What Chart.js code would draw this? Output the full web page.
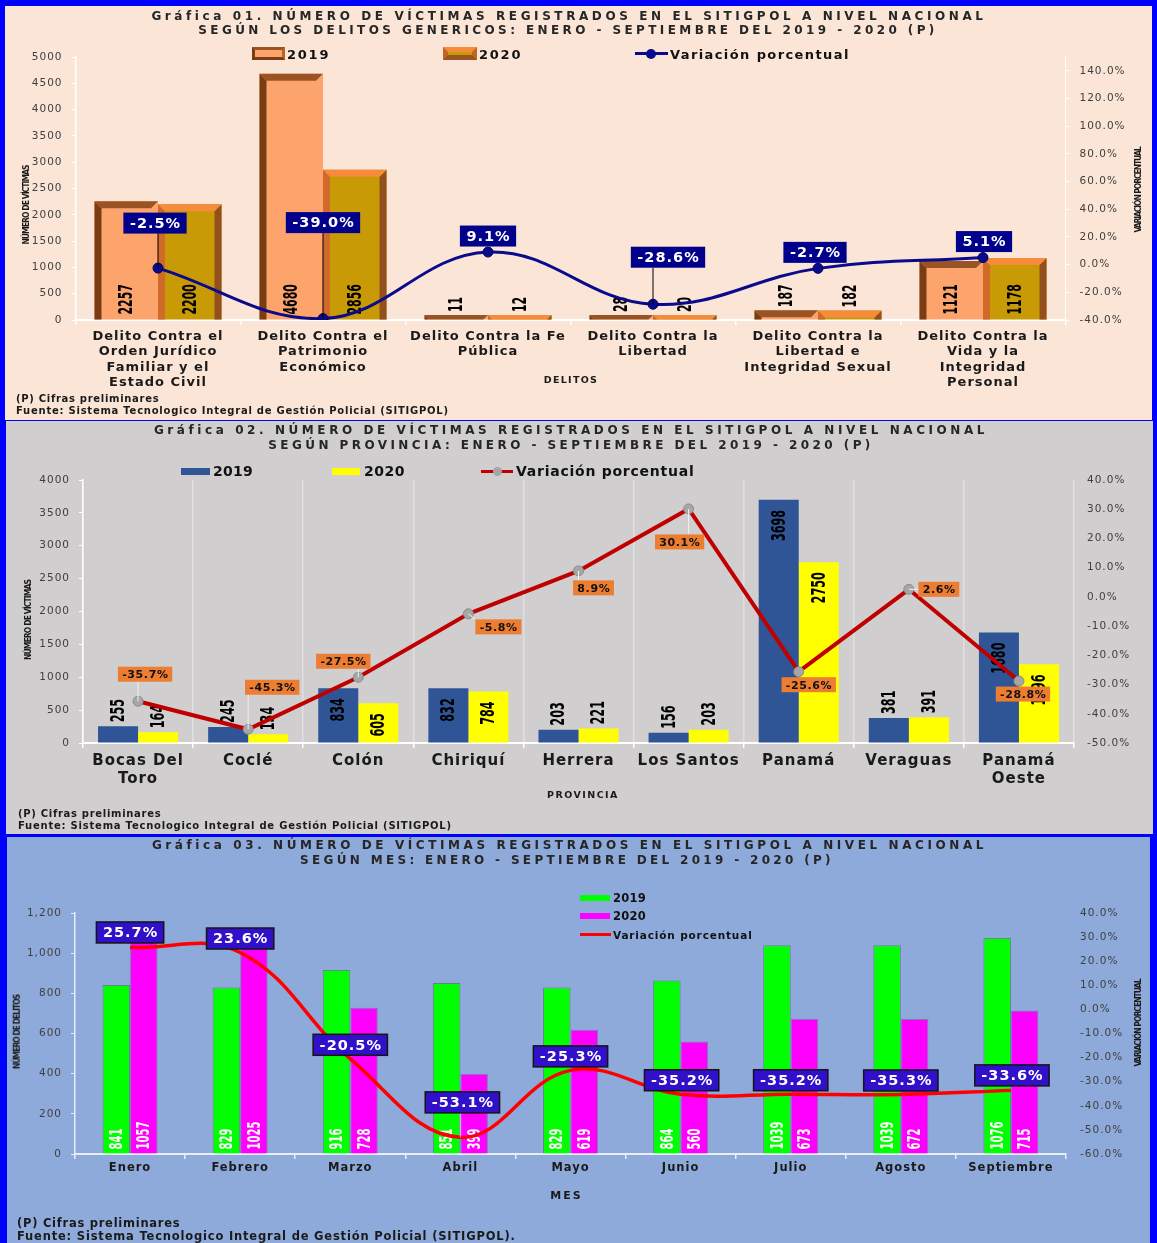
<!DOCTYPE html>
<html>
<head>
<meta charset="utf-8">
<title>Víctimas registradas en el SITIGPOL 2019 - 2020</title>
<script src="https://cdn.jsdelivr.net/npm/chart.js@4.4.1/dist/chart.umd.min.js"></script>
<style>
  html, body { margin: 0; padding: 0; }
  body { width: 1157px; height: 1243px; background: #0000ff; position: relative; overflow: hidden;
         font-family: "DejaVu Sans", Verdana, sans-serif; }
  .panel { position: absolute; }
  .panel canvas { position: absolute; left: 0; top: 0; }
  #p1 { left: 5px; top: 6px; width: 1147px; height: 414px; background: #fbe5d6; }
  #p2 { left: 6px; top: 421px; width: 1147px; height: 413px; background: #d0cece; }
  #p3 { left: 7px; top: 837px; width: 1143px; height: 406px; background: #8eaadb; }
  .tx { position: absolute; white-space: nowrap; font-weight: bold; color: #262626; line-height: 1; }
  .c { transform: translate(-50%, -50%); }
  .l { transform: translateY(-50%); }
  .v { transform: translate(-50%, -50%) rotate(-90deg); font-family: "DejaVu Sans Condensed", "DejaVu Sans", sans-serif;
       font-size: 8.5px; color: #1a1a1a; }
  .title { font-size: 12px; }
  .note { font-size: 10px; color: #1a1a1a; }
  .sw { position: absolute; box-sizing: border-box; }
</style>
</head>
<body>
<div class="panel" id="p1"><canvas id="c1" width="1147" height="414"></canvas></div>
<div class="panel" id="p2"><canvas id="c2" width="1147" height="413"></canvas></div>
<div class="panel" id="p3"><canvas id="c3" width="1143" height="406"></canvas></div>

<!-- Gráfica 01 -->
<div class="tx c title" style="left:569px;top:15.5px" data-w="835">Gráfica 01. NÚMERO DE VÍCTIMAS REGISTRADOS EN EL SITIGPOL A NIVEL NACIONAL</div>
<div class="tx c title" style="left:568px;top:30px" data-w="739">SEGÚN LOS DELITOS GENERICOS: ENERO - SEPTIEMBRE DEL 2019 - 2020 (P)</div>
<div class="sw" style="left:252px;top:47px;width:33px;height:13px;background:#fda46c;border:3px solid;border-color:#9a5424 #b5622c #7a3c12 #7a3c12"></div>
<div class="tx l" style="left:287px;top:53.5px;font-size:13px;color:#111" data-w="43">2019</div>
<div class="sw" style="left:443px;top:47px;width:34px;height:13px;background:#c89a05;border:5px solid;border-color:#f68b3c #c0652a #9a5424 #c0652a"></div>
<div class="tx l" style="left:479px;top:53.5px;font-size:13px;color:#111" data-w="43">2020</div>
<div class="sw" style="left:635px;top:52px;width:33px;height:3px;background:#0a0a8c"></div>
<div class="sw" style="left:646px;top:48.5px;width:10px;height:10px;border-radius:50%;background:#0a0a8c"></div>
<div class="tx l" style="left:670px;top:53.5px;font-size:13px;color:#111" data-w="180">Variación porcentual</div>
<div class="tx c" style="left:571px;top:379.5px;font-size:9.5px;color:#1a1a1a" data-w="54">DELITOS</div>
<div class="tx v" style="left:25.5px;top:205px" data-w="79">NÚMERO DE VÍCTIMAS</div>
<div class="tx v" style="left:1138px;top:190px" data-w="85">VARIACIÓN PORCENTUAL</div>
<div class="tx l note" style="left:16px;top:398.5px" data-w="143">(P) Cifras preliminares</div>
<div class="tx l note" style="left:16px;top:410.5px" data-w="433">Fuente: Sistema Tecnologico Integral de Gestión Policial (SITIGPOL)</div>

<!-- Gráfica 02 -->
<div class="tx c title" style="left:571px;top:430px" data-w="834">Gráfica 02. NÚMERO DE VÍCTIMAS REGISTRADOS EN EL SITIGPOL A NIVEL NACIONAL</div>
<div class="tx c title" style="left:571px;top:445px" data-w="606">SEGÚN PROVINCIA: ENERO - SEPTIEMBRE DEL 2019 - 2020 (P)</div>
<div class="sw" style="left:181px;top:467.5px;width:29px;height:7px;background:#2f5597"></div>
<div class="tx l" style="left:213px;top:471px;font-size:14px;color:#111" data-w="40">2019</div>
<div class="sw" style="left:332px;top:467.5px;width:28px;height:7px;background:#ffff00"></div>
<div class="tx l" style="left:364px;top:471px;font-size:14px;color:#111" data-w="41">2020</div>
<div class="sw" style="left:481px;top:469.5px;width:32px;height:3px;background:#c00000"></div>
<div class="sw" style="left:492.5px;top:466.5px;width:9px;height:9px;border-radius:50%;background:#a6a6a6"></div>
<div class="tx l" style="left:516px;top:471px;font-size:14px;color:#111" data-w="178">Variación porcentual</div>
<div class="tx c" style="left:583px;top:794.5px;font-size:9.5px;color:#1a1a1a" data-w="72">PROVINCIA</div>
<div class="tx v" style="left:28px;top:620px" data-w="80">NÚMERO DE VÍCTIMAS</div>
<div class="tx l note" style="left:18px;top:813.5px" data-w="143">(P) Cifras preliminares</div>
<div class="tx l note" style="left:18px;top:825.5px" data-w="434">Fuente: Sistema Tecnologico Integral de Gestión Policial (SITIGPOL)</div>

<!-- Gráfica 03 -->
<div class="tx c title" style="left:569.5px;top:845px" data-w="835">Gráfica 03. NÚMERO DE VÍCTIMAS REGISTRADOS EN EL SITIGPOL A NIVEL NACIONAL</div>
<div class="tx c title" style="left:567px;top:860px" data-w="534">SEGÚN MES: ENERO - SEPTIEMBRE DEL 2019 - 2020 (P)</div>
<div class="sw" style="left:580px;top:895px;width:30px;height:6px;background:#00ff00"></div>
<div class="tx l" style="left:613px;top:898.5px;font-size:11.5px;color:#111" data-w="33">2019</div>
<div class="sw" style="left:580px;top:913px;width:30px;height:6px;background:#ff00ff"></div>
<div class="tx l" style="left:613px;top:916.5px;font-size:11.5px;color:#111" data-w="33">2020</div>
<div class="sw" style="left:580px;top:932.5px;width:31px;height:3px;background:#ff0000"></div>
<div class="tx l" style="left:613px;top:934.5px;font-size:10.5px;color:#111" data-w="140">Variación porcentual</div>
<div class="tx c" style="left:566.5px;top:1194.5px;font-size:11px;color:#1a1a1a" data-w="32">MES</div>
<div class="tx v" style="left:17px;top:1032px" data-w="74">NÚMERO DE DELITOS</div>
<div class="tx v" style="left:1138px;top:1023px" data-w="87">VARIACIÓN PORCENTUAL</div>
<div class="tx l note" style="left:17px;top:1224px;font-size:11.5px" data-w="163">(P) Cifras preliminares</div>
<div class="tx l note" style="left:17px;top:1237px;font-size:11.5px" data-w="499">Fuente: Sistema Tecnologico  Integral de Gestión Policial (SITIGPOL).</div>

<script>
// Gráfica 01: delitos genéricos
const delitos = [
  ['Delito Contra el', 'Orden Jurídico', 'Familiar y el', 'Estado Civil'],
  ['Delito Contra el', 'Patrimonio', 'Económico'],
  ['Delito Contra la Fe', 'Pública'],
  ['Delito Contra la', 'Libertad'],
  ['Delito Contra la', 'Libertad e', 'Integridad Sexual'],
  ['Delito Contra la', 'Vida y la', 'Integridad', 'Personal']
];
const delitos2019 = [2257, 4680, 11, 28, 187, 1121];
const delitos2020 = [2200, 2856, 12, 20, 182, 1178];
const delitosVar = [-2.5, -39.0, 9.1, -28.6, -2.7, 5.1];

// Gráfica 02: provincias
const provincias = [['Bocas Del', 'Toro'], 'Coclé', 'Colón', 'Chiriquí', 'Herrera', 'Los Santos', 'Panamá', 'Veraguas', ['Panamá', 'Oeste']];
const provincias2019 = [255, 245, 834, 832, 203, 156, 3698, 381, 1680];
const provincias2020 = [164, 134, 605, 784, 221, 203, 2750, 391, 1196];
const provinciasVar = [-35.7, -45.3, -27.5, -5.8, 8.9, 30.1, -25.6, 2.6, -28.8];

// Gráfica 03: meses
const meses = ['Enero', 'Febrero', 'Marzo', 'Abril', 'Mayo', 'Junio', 'Julio', 'Agosto', 'Septiembre'];
const meses2019 = [841, 829, 916, 851, 829, 864, 1039, 1039, 1076];
const meses2020 = [1057, 1025, 728, 399, 619, 560, 673, 672, 715];
const mesesVar = [25.7, 23.6, -20.5, -53.1, -25.3, -35.2, -35.2, -35.3, -33.6];

// ajusta el espaciado de letras de los textos HTML al ancho del original
document.querySelectorAll('[data-w]').forEach(el => {
  el.style.letterSpacing = '0px';
  const n = el.textContent.length;
  el.style.letterSpacing = ((+el.dataset.w - el.offsetWidth) / n) + 'px';
});

Chart.defaults.font.family = '"DejaVu Sans", Verdana, sans-serif';
Chart.defaults.animation = false;
Chart.defaults.plugins.legend.display = false;
Chart.defaults.plugins.tooltip.enabled = false;

const tickFont = { size: 10.5 };
const tickColor = '#404040';
const numFont = 'bold 19px "Liberation Sans Narrow", "DejaVu Sans Condensed", "Liberation Sans", sans-serif';

// espaciado de letras para las etiquetas de los ejes (solo mientras se dibujan los ejes)
const spacingPlugin = {
  id: 'spacing',
  beforeDraw(chart) { chart.ctx.letterSpacing = '1px'; },
  beforeDatasetsDraw(chart) { chart.ctx.letterSpacing = '0px'; }
};

// barras con biselado tipo 3D (Gráfica 01)
function drawBevels(ctx, meta, bevel) {
  ctx.save();
  meta.data.forEach(bar => {
    const l = bar.x - bar.width / 2, r = bar.x + bar.width / 2, t = bar.y, b = bar.base;
    const d = Math.min(bevel.depth, b - t);
    const quad = (pts, color) => {
      if (!color) return;
      ctx.fillStyle = color;
      ctx.beginPath();
      ctx.moveTo(pts[0][0], pts[0][1]);
      for (let k = 1; k < pts.length; k++) ctx.lineTo(pts[k][0], pts[k][1]);
      ctx.closePath();
      ctx.fill();
    };
    quad([[l, t], [l + d, t + d], [l + d, b], [l, b]], bevel.left);
    quad([[r, t], [r - d, t + d], [r - d, b], [r, b]], bevel.right);
    quad([[l, t], [r, t], [r - d, t + d], [l + d, t + d]], bevel.top);
  });
  ctx.restore();
}

// valores verticales de las barras
function drawBarLabels(ctx, meta, values, cfg) {
  ctx.save();
  ctx.letterSpacing = '0px';
  ctx.font = cfg.font;
  ctx.fillStyle = cfg.color;
  ctx.textAlign = 'left';
  ctx.textBaseline = 'middle';
  meta.data.forEach((bar, i) => {
    const txt = String(values[i]);
    const len = txt.length * cfg.charW;
    const sx = len / ctx.measureText(txt).width;
    const h = bar.base - bar.y;
    let start;
    if (cfg.place === 'base') start = h >= len + 10 ? bar.base - cfg.gap : bar.y - 3;
    else start = h >= len + 8 ? bar.y + 10 + len : bar.y - 4;
    ctx.save();
    ctx.translate(bar.x + 1, start);
    ctx.rotate(-Math.PI / 2);
    ctx.scale(sx, 1);
    ctx.fillText(txt, 0, 0);
    ctx.restore();
  });
  ctx.restore();
}

// cuadros con la variación porcentual
function drawPctLabels(chart, cfg) {
  const ctx = chart.ctx;
  const di = chart.data.datasets.findIndex(d => d.type === 'line');
  const meta = chart.getDatasetMeta(di);
  const vals = chart.data.datasets[di].data;
  ctx.save();
  ctx.font = cfg.font;
  ctx.letterSpacing = cfg.spacing + 'px';
  meta.data.forEach((pt, i) => {
    const txt = vals[i].toFixed(1) + '%';
    const w = ctx.measureText(txt).width + cfg.padX * 2;
    const h = cfg.boxH;
    const cx = pt.x + cfg.offsets[i][0], cy = pt.y + cfg.offsets[i][1];
    const x0 = cx - w / 2, y0 = cy - h / 2;
    const nx = Math.min(Math.max(pt.x, x0), x0 + w);
    const ny = Math.min(Math.max(pt.y, y0), y0 + h);
    if (cfg.leader && Math.hypot(nx - pt.x, ny - pt.y) > 8) {
      ctx.strokeStyle = cfg.leader;
      ctx.lineWidth = 1;
      ctx.beginPath();
      ctx.moveTo(pt.x, pt.y);
      ctx.lineTo(nx, ny);
      ctx.stroke();
    }
    ctx.fillStyle = cfg.bg;
    ctx.fillRect(x0, y0, w, h);
    if (cfg.border) {
      ctx.strokeStyle = cfg.border;
      ctx.lineWidth = 1.5;
      ctx.strokeRect(x0, y0, w, h);
    }
    ctx.fillStyle = cfg.color;
    ctx.textAlign = 'center';
    ctx.textBaseline = 'middle';
    ctx.fillText(txt, cx + cfg.spacing / 2, cy + 1);
  });
  ctx.restore();
}

function labelsPlugin(barCfg, pctCfg) {
  return {
    id: 'labels',
    afterDatasetDraw(chart, args) {
      const ds = chart.data.datasets[args.index];
      if (ds.type === 'line') return;
      if (ds.bevel) drawBevels(chart.ctx, args.meta, ds.bevel);
      drawBarLabels(chart.ctx, args.meta, ds.data, barCfg);
    },
    afterDatasetsDraw(chart) { drawPctLabels(chart, pctCfg); }
  };
}

const pctTicks = v => v.toFixed(1) + '%';
const plainTicks = v => String(v);

// ---------- Gráfica 01 ----------
new Chart(document.getElementById('c1'), {
  type: 'bar',
  data: {
    labels: delitos,
    datasets: [
      { label: '2019', data: delitos2019, backgroundColor: '#fda46c', minBarLength: 5,
        bevel: { depth: 7, left: '#7a3c12', top: '#9a5424', right: null } },
      { label: '2020', data: delitos2020, backgroundColor: '#c89a05', minBarLength: 5,
        bevel: { depth: 7, left: '#d0692a', top: '#f68b3c', right: '#93501e' } },
      { type: 'line', label: 'Variación porcentual', data: delitosVar, yAxisID: 'y2', order: -1,
        borderColor: '#0a0a8c', borderWidth: 3, tension: 0.4,
        pointRadius: 5, pointBackgroundColor: '#0a0a8c', pointBorderColor: '#00005a', pointBorderWidth: 1 }
    ]
  },
  options: {
    responsive: false,
    layout: { padding: { top: 51, left: 0, right: 0, bottom: 0 } },
    datasets: { bar: { categoryPercentage: 0.77, barPercentage: 1 } },
    scales: {
      x: {
        offset: true,
        grid: { offset: true, drawOnChartArea: false, color: '#ffffff', tickLength: 5, lineWidth: 1.5 },
        border: { color: '#ffffff', width: 2 },
        ticks: { color: '#1a1a1a', font: { size: 13, weight: 'bold', lineHeight: 1.18 }, padding: 4, maxRotation: 0, autoSkip: false },
        afterFit: s => { s.height = 100; }
      },
      y: {
        min: 0, max: 5000,
        ticks: { stepSize: 500, color: tickColor, font: tickFont, padding: 9, callback: plainTicks },
        grid: { drawOnChartArea: false, color: '#ffffff', tickLength: 4 },
        border: { color: '#ffffff', width: 1.5 },
        afterFit: s => { s.width = 70.5; }
      },
      y2: {
        position: 'right', min: -40, max: 150,
        ticks: { stepSize: 20, color: tickColor, font: tickFont, padding: 10, callback: pctTicks },
        afterBuildTicks: s => { s.ticks = s.ticks.filter(t => t.value <= 140); },
        grid: { drawOnChartArea: false, color: '#ffffff', tickLength: 4 },
        border: { color: 'rgba(255,255,255,0.9)', width: 1 },
        afterFit: s => { s.width = 86.5; }
      }
    }
  },
  plugins: [spacingPlugin, labelsPlugin(
    { font: numFont, color: '#000000', charW: 7.6, place: 'base', gap: 5 },
    { font: 'bold 14.5px "DejaVu Sans", Verdana, sans-serif', spacing: 1, padX: 6, boxH: 21,
      bg: '#00008b', color: '#ffffff', leader: '#000000',
      offsets: [[-3, -45], [0, -96], [0, -16], [15, -47], [-3, -16], [1, -16]] }
  )]
});

// ---------- Gráfica 02 ----------
new Chart(document.getElementById('c2'), {
  type: 'bar',
  data: {
    labels: provincias,
    datasets: [
      { label: '2019', data: provincias2019, backgroundColor: '#2f5597' },
      { label: '2020', data: provincias2020, backgroundColor: '#ffff00' },
      { type: 'line', label: 'Variación porcentual', data: provinciasVar, yAxisID: 'y2', order: -1,
        borderColor: '#c00000', borderWidth: 4, tension: 0,
        pointRadius: 5, pointBackgroundColor: '#a6a6a6', pointBorderColor: '#8c8c8c', pointBorderWidth: 1 }
    ]
  },
  options: {
    responsive: false,
    layout: { padding: { top: 59, left: 0, right: 0, bottom: 0 } },
    datasets: { bar: { categoryPercentage: 0.727, barPercentage: 1 } },
    scales: {
      x: {
        offset: true,
        grid: { offset: true, drawOnChartArea: true, color: '#e0e0e0', tickColor: '#ffffff', tickLength: 5, lineWidth: 1.5 },
        border: { color: '#ffffff', width: 2 },
        ticks: { color: '#1a1a1a', font: { size: 15, weight: 'bold', lineHeight: 1.2 }, padding: 4, maxRotation: 0, autoSkip: false },
        afterFit: s => { s.height = 91; }
      },
      y: {
        min: 0, max: 4000,
        ticks: { stepSize: 500, color: tickColor, font: tickFont, padding: 9, callback: plainTicks },
        grid: { drawOnChartArea: false, color: '#ffffff', tickLength: 4 },
        border: { color: '#ffffff', width: 1.5 },
        afterFit: s => { s.width = 77; }
      },
      y2: {
        position: 'right', min: -50, max: 40,
        ticks: { stepSize: 10, color: tickColor, font: tickFont, padding: 13, callback: pctTicks },
        grid: { drawOnChartArea: false, drawTicks: false },
        border: { display: false },
        afterFit: s => { s.width = 79; }
      }
    }
  },
  plugins: [spacingPlugin, labelsPlugin(
    { font: numFont, color: '#000000', charW: 7.8, place: 'end' },
    { font: 'bold 11px "DejaVu Sans", Verdana, sans-serif', spacing: 0.6, padX: 4, boxH: 15,
      bg: '#ed7d31', color: '#111111', leader: '#f2f2f2',
      offsets: [[7, -27], [24, -42], [-15, -16], [30, 13], [15, 17], [-9, 33], [10, 13], [30, 0], [4, 13]] }
  )]
});

// ---------- Gráfica 03 ----------
new Chart(document.getElementById('c3'), {
  type: 'bar',
  data: {
    labels: meses,
    datasets: [
      { label: '2019', data: meses2019, backgroundColor: '#00ff00', borderColor: 'rgba(40,90,40,0.45)', borderWidth: 1 },
      { label: '2020', data: meses2020, backgroundColor: '#ff00ff', borderColor: 'rgba(90,40,90,0.35)', borderWidth: 1 },
      { type: 'line', label: 'Variación porcentual', data: mesesVar, yAxisID: 'y2', order: -1,
        borderColor: '#ff0000', borderWidth: 3.5, tension: 0.4, pointRadius: 0 }
    ]
  },
  options: {
    responsive: false,
    layout: { padding: { top: 76, left: 0, right: 0, bottom: 0 } },
    datasets: { bar: { categoryPercentage: 0.5, barPercentage: 1 } },
    scales: {
      x: {
        offset: true,
        grid: { offset: true, drawOnChartArea: false, color: '#e8eef8', tickLength: 5, lineWidth: 1.5 },
        border: { color: '#e8eef8', width: 2 },
        ticks: { color: '#1a1a1a', font: { size: 11.5, weight: 'bold', lineHeight: 1.2 }, padding: 2, maxRotation: 0, autoSkip: false },
        afterFit: s => { s.height = 89; }
      },
      y: {
        min: 0, max: 1200,
        ticks: { stepSize: 200, color: tickColor, font: tickFont, padding: 9, callback: v => v.toLocaleString('en-US') },
        grid: { drawOnChartArea: false, color: '#e8eef8', tickLength: 4 },
        border: { color: '#e8eef8', width: 1.5 },
        afterFit: s => { s.width = 68; }
      },
      y2: {
        position: 'right', min: -60, max: 40,
        ticks: { stepSize: 10, color: tickColor, font: tickFont, padding: 14, callback: pctTicks },
        grid: { drawOnChartArea: false, drawTicks: false },
        border: { display: false },
        afterFit: s => { s.width = 84; }
      }
    }
  },
  plugins: [spacingPlugin, labelsPlugin(
    { font: 'bold 18px "Liberation Sans Narrow", "DejaVu Sans Condensed", "Liberation Sans", sans-serif', color: '#ffffff', charW: 7, place: 'base', gap: 4 },
    { font: 'bold 14.5px "DejaVu Sans", Verdana, sans-serif', spacing: 1, padX: 6, boxH: 21,
      bg: '#3010c8', color: '#ffffff', border: '#151515', leader: '#ff99ff',
      offsets: [[0, -15], [0, -14], [0, -14], [2, -35], [0, -14], [1, -14], [0, -14], [0, -14], [1, -15]] }
  )]
});
</script>
</body>
</html>
